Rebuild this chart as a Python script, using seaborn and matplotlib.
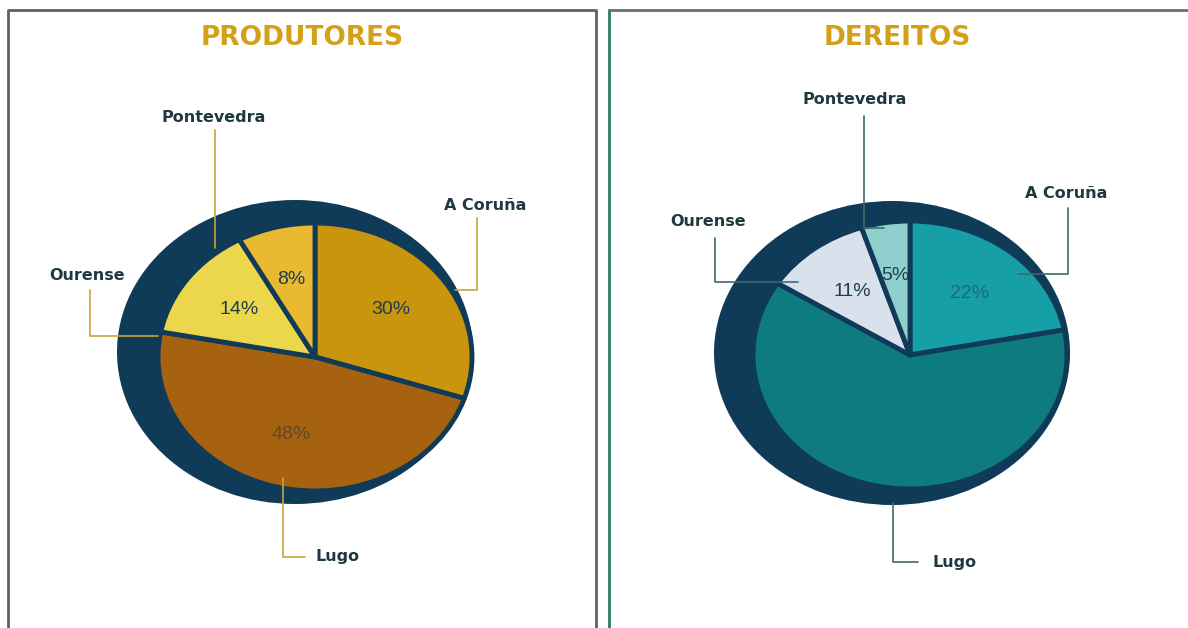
"""Produtores / Dereitos pie charts by province."""
import matplotlib

matplotlib.use("agg")
import matplotlib.pyplot as plt
import seaborn as sns
from matplotlib.patches import Ellipse

# Data
regions = ["A Coruña", "Lugo", "Ourense", "Pontevedra"]
produtores = [30, 48, 14, 8]
dereitos = [22, 62, 11, 5]
titles = ["PRODUTORES", "DEREITOS"]

# Styles
produtores_colors = ["#c8950c", "#a6620f", "#ecd64c", "#e9b932"]
dereitos_colors = ["#169fa6", "#0d7b80", "#d9e1ec", "#8fcfcd"]
produtores_pct_colors = ["#1e3d4f", "#5e4a26", "#1e3d4f", "#1e3d4f"]
dereitos_pct_colors = ["#1c6a76", "#10767b", "#1e3d4f", "#1e3d4f"]
navy = "#0f3a58"
title_color = "#d4a017"
label_color = "#1f3a3e"

sns.set_theme(style="white")
plt.rcParams["font.family"] = ["DejaVu Sans"]

W, H = 1188, 628
fig = plt.figure(figsize=(W / 100, H / 100), dpi=100)
fig.patch.set_facecolor("white")

# pixel layout of each panel
panels = [
    dict(values=produtores, colors=produtores_colors, pct_colors=produtores_pct_colors,
         center=(315, 357), shadow=(-20, 5), title_xy=(302, 38), leader_color="#c9a43a",
         labels={"Pontevedra": (214, 117), "Ourense": (87, 275), "A Coruña": (485, 205), "Lugo": (338, 557)},
         leaders={"Pontevedra": [(215, 130), (215, 248)],
                  "Ourense": [(90, 290), (90, 336), (158, 336)],
                  "A Coruña": [(477, 218), (477, 290), (455, 290)],
                  "Lugo": [(283, 478), (283, 557), (305, 557)]}),
    dict(values=dereitos, colors=dereitos_colors, pct_colors=dereitos_pct_colors,
         center=(910, 355), shadow=(-18, 2), title_xy=(897, 38), leader_color="#3f6b6b",
         labels={"Pontevedra": (855, 100), "Ourense": (708, 222), "A Coruña": (1066, 193), "Lugo": (955, 562)},
         leaders={"Pontevedra": [(864, 116), (864, 228), (884, 228)],
                  "Ourense": [(715, 238), (715, 282), (798, 282)],
                  "A Coruña": [(1068, 208), (1068, 274), (1018, 274)],
                  "Lugo": [(893, 503), (893, 562), (918, 562)]}),
]

rx, ry = 157, 134          # pie radii in pixels
srx, sry = 178, 152        # dark backing ellipse radii

for panel in panels:
    cx, cy = panel["center"]
    ax = fig.add_axes([(cx - rx) / W, 1 - (cy + ry) / H, 2 * rx / W, 2 * ry / H])
    dx, dy = panel["shadow"]
    ax.add_patch(Ellipse((dx / rx, dy / ry), 2 * srx / rx, 2 * sry / ry,
                         facecolor=navy, edgecolor="none", zorder=0, clip_on=False))
    wedges, _, autotexts = ax.pie(
        panel["values"], colors=panel["colors"], startangle=90, counterclock=False,
        autopct="%.0f%%", pctdistance=0.6,
        wedgeprops=dict(edgecolor=navy, linewidth=3.5, joinstyle="round"),
        textprops=dict(fontsize=14, family="Liberation Sans"),
    )
    for w in wedges:
        w.set_clip_on(False)
        w.set_zorder(1)
    for t, c in zip(autotexts, panel["pct_colors"]):
        t.set_color(c)
        t.set_zorder(2)
    ax.set_aspect("auto")
    ax.set_xlim(-1, 1)
    ax.set_ylim(-1, 1)
    ax.axis("off")

# overlay canvas in pixel coordinates for frames, titles, labels and leaders
canvas = fig.add_axes([0, 0, 1, 1], zorder=5)
canvas.set_xlim(0, W)
canvas.set_ylim(H, 0)
canvas.axis("off")
canvas.patch.set_alpha(0)

canvas.plot([8, 8, 596, 596], [640, 10, 10, 640], color="#5a6462", lw=2)
canvas.plot([609, 609], [640, 10], color="#2f7a68", lw=2)
canvas.plot([609, 1200], [10, 10], color="#6a6e6e", lw=2)

for panel, title in zip(panels, titles):
    tx, ty = panel["title_xy"]
    canvas.text(tx, ty, title, ha="center", va="center", fontsize=19,
                fontweight="bold", color=title_color)
    for name in regions:
        lx, ly = panel["labels"][name]
        canvas.text(lx, ly, name, ha="center", va="center", fontsize=11.5,
                    fontweight="bold", color=label_color)
        xs, ys = zip(*panel["leaders"][name])
        canvas.plot(xs, ys, color=panel["leader_color"], lw=1.2)

fig.savefig("out.png", dpi=100)
